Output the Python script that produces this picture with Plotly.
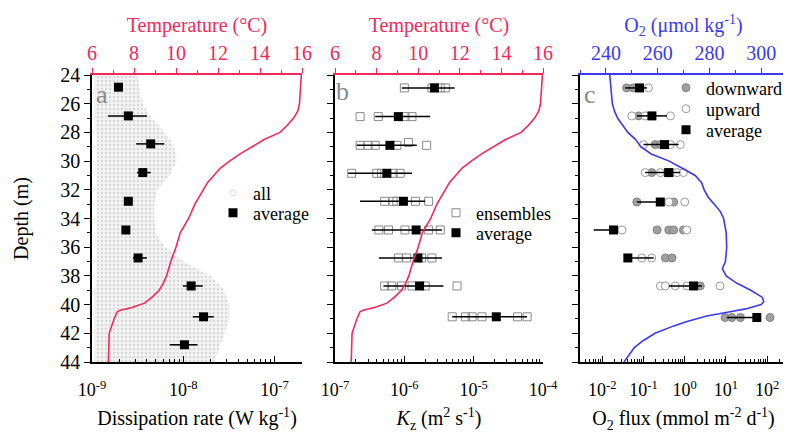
import plotly.graph_objects as go

# ---------------- data ----------------
# temperature profile (shared by panels a and b)
temp_depth = [24, 25, 26, 26.5, 27, 27.5, 28, 28.5, 29, 29.5, 30, 30.5, 31, 31.5, 32, 33, 34, 35, 36, 37,
              38, 38.5, 39, 39.5, 39.9, 40.2, 40.4, 40.5, 41, 41.8, 42, 43, 44]
temp_val = [15.97, 15.93, 15.88, 15.8, 15.6, 15.3, 14.95, 14.2, 13.6, 13.05, 12.55, 12.1, 11.8, 11.5, 11.3,
            10.9, 10.6, 10.2, 10.0, 9.75, 9.55, 9.4, 9.2, 8.85, 8.5, 7.9, 7.35, 7.2, 7.05, 6.88, 6.82, 6.8, 6.78]

# O2 profile (panel c)
o2_depth = [24, 25, 26, 26.5, 27, 27.5, 28, 28.5, 29, 29.5, 30, 30.5, 31, 31.5, 32, 32.5, 33, 33.5, 34, 35,
            36, 37, 37.5, 38, 38.5, 39, 39.5, 39.8, 40, 40.3, 40.5, 40.8, 41.2, 41.5, 42, 42.5, 43, 44]
o2_val = [241.5, 241.9, 242.5, 243.3, 244.5, 246.5, 248.5, 251.5, 253.5, 257.5, 264.5, 269.5, 274.5, 277,
          278, 279.5, 282, 284.2, 285.5, 286.5, 286.7, 286.2, 285, 286.5, 290.5, 296, 300.5, 301, 300, 294,
          288, 279, 271, 266, 259, 254.5, 251, 247]

# panel a: envelope of all dissipation measurements
all_depth = [24, 25, 26, 27, 28, 29, 30, 31, 32, 33, 34, 35, 36, 37, 38, 39, 40, 41, 42, 43, 44]
all_low = [1.07e-9, 1.07e-9, 1.07e-9, 1.07e-9, 1.12e-9, 1.12e-9, 1.12e-9, 1.12e-9, 1.12e-9, 1.12e-9, 1.12e-9,
           1.12e-9, 1.12e-9, 1.12e-9, 1.12e-9, 1.07e-9, 1.07e-9, 1.07e-9, 1.07e-9, 1.07e-9, 1.07e-9]
all_high = [3.2e-9, 3.3e-9, 3.6e-9, 4.5e-9, 6.3e-9, 8.0e-9, 8.5e-9, 7.1e-9, 5.2e-9, 4.8e-9, 4.8e-9,
            5.0e-9, 6.3e-9, 1.0e-8, 2.0e-8, 2.8e-8, 3.2e-8, 3.2e-8, 2.8e-8, 2.5e-8, 2.2e-8]

# panel a: averages
eps_depth = [24.85, 26.85, 28.8, 30.8, 32.8, 34.8, 36.75, 38.7, 40.85, 42.8]
eps_avg = [1.95e-9, 2.5e-9, 4.4e-9, 3.6e-9, 2.5e-9, 2.35e-9, 3.2e-9, 1.22e-8, 1.67e-8, 1.03e-8]
eps_lo = [1.9e-9, 1.5e-9, 3.05e-9, 3.1e-9, 2.45e-9, 2.3e-9, 2.8e-9, 9.9e-9, 1.27e-8, 7.1e-9]
eps_hi = [2.0e-9, 4.0e-9, 6.2e-9, 4.4e-9, 2.55e-9, 2.4e-9, 4.0e-9, 1.64e-8, 2.16e-8, 1.43e-8]

# panel b: Kz
kz_depth = [24.9, 26.9, 28.9, 30.85, 32.8, 34.8, 36.75, 38.7, 40.85]
kz_avg = [2.72e-6, 8.2e-7, 6.2e-7, 5.6e-7, 9.7e-7, 1.48e-6, 1.57e-6, 1.66e-6, 2.12e-5]
kz_lo = [9.2e-7, 3.8e-7, 2.06e-7, 1.55e-7, 2.3e-7, 3.4e-7, 4.3e-7, 5.0e-7, 4.9e-6]
kz_hi = [5.3e-6, 2.36e-6, 1.51e-6, 1.29e-6, 2.0e-6, 3.48e-6, 3.48e-6, 3.67e-6, 5.9e-5]
ens_depth = [24.9] * 4 + [26.9] * 4 + [28.9, 28.9, 28.9, 28.9, 28.7, 28.9] + [30.85] * 5 + [32.8] * 5 + \
            [34.8] * 5 + [36.75] * 4 + [38.7] * 6 + [40.85] * 6
ens_kz = [1.0e-6, 2.5e-6, 3.3e-6, 3.9e-6,
          2.3e-7, 4.2e-7, 1.02e-6, 1.29e-6,
          2.3e-7, 3.0e-7, 3.8e-7, 7.8e-7, 1.15e-6, 2.1e-6,
          1.74e-7, 4.0e-7, 4.7e-7, 6.9e-7, 8.7e-7,
          5.2e-7, 6.9e-7, 7.8e-7, 1.45e-6, 2.24e-6,
          4.3e-7, 5.9e-7, 1.02e-6, 2.24e-6, 3.3e-6,
          8.2e-7, 1.08e-6, 1.78e-6, 2.5e-6,
          5.2e-7, 6.6e-7, 9.1e-7, 1.29e-6, 2.0e-6, 5.75e-6,
          4.9e-6, 7.6e-6, 9.5e-6, 1.32e-5, 4.3e-5, 5.9e-5]

# panel c: O2 flux
flux_depth = [24.9, 26.85, 28.85, 30.8, 32.85, 34.8, 36.75, 38.7, 40.9]
flux_avg = [0.080, 0.160, 0.324, 0.407, 0.255, 0.0188, 0.0417, 1.64, 56]
flux_lo = [0.036, 0.069, 0.10, 0.11, 0.069, 0.0062, 0.0417, 0.41, 10.5]
flux_hi = [0.121, 0.37, 0.71, 0.78, 0.255, 0.0188, 0.176, 2.63, 56]
down_depth = [24.9, 24.9, 26.85, 28.85, 28.85, 30.8, 30.8, 32.85, 32.85, 34.8, 34.8, 34.8, 34.8,
              36.75, 36.75, 38.7, 40.9, 40.9, 40.9, 40.9]
down_flux = [0.039, 0.056, 0.076, 0.193, 0.257, 0.158, 0.49, 0.069, 0.54, 0.214, 0.41, 0.54, 0.93,
             0.34, 0.49, 2.38, 9.5, 13.8, 22.4, 117]
up_depth = [24.9, 26.85, 26.85, 26.85, 28.85, 28.85, 28.85, 30.8, 30.8, 30.8, 30.8, 32.85, 32.85,
            34.8, 34.8, 36.75, 36.75, 38.7, 38.7, 38.7, 38.7, 38.7]
up_flux = [0.132, 0.052, 0.110, 0.45, 0.10, 0.45, 0.78, 0.11, 0.257, 0.65, 0.93, 0.41, 1.0,
           0.030, 1.12, 0.091, 0.158, 0.257, 0.34, 0.59, 1.13, 7.2]

depth_ticks = list(range(24, 45, 2))
eps_decades = [-9, -8, -7]
kz_decades = [-7, -6, -5, -4]
flux_decades = [-2, -1, 0, 1, 2]

# ---------------- style ----------------
FONT = "Liberation Serif"
RED = "#f5285a"
BLUE = "#3a3af0"
W, H = 791, 436
OFF = 8  # page body margin of the browser


def px(x):
    return (x - OFF) / W


def py(y):
    return 1 - (y - OFF) / H


Y0, Y1 = py(362), py(75)
dom_a = [px(92), px(302)]
dom_b = [px(335), px(543)]
dom_c = [px(580), px(787)]


def err(avg, lo, hi):
    return dict(type="data", symmetric=False,
                array=[h - a for a, h in zip(avg, hi)],
                arrayminus=[a - l for a, l in zip(avg, lo)],
                color="black", thickness=1.5, width=0)


AVG_MARK = dict(symbol="square", size=9, color="black")

fig = go.Figure()

# panel a
fig.add_trace(go.Scatter(x=all_low + all_high[::-1], y=all_depth + all_depth[::-1], mode="lines",
                         fill="toself", fillcolor="rgba(222,222,222,0.55)",
                         fillpattern=dict(shape=".", fgcolor="#bdbdbd", bgcolor="rgba(232,232,232,0.55)",
                                          size=4, solidity=0.3),
                         line=dict(width=0, color="rgba(0,0,0,0)"), showlegend=False,
                         xaxis="x", yaxis="y", hoverinfo="skip"))
fig.add_trace(go.Scatter(x=[None], y=[None], mode="markers", name="all",
                         marker=dict(symbol="circle-open", size=6, color="#dcdcdc"),
                         xaxis="x", yaxis="y", legend="legend"))
fig.add_trace(go.Scatter(x=eps_avg, y=eps_depth, mode="markers", name="average", marker=AVG_MARK,
                         error_x=err(eps_avg, eps_lo, eps_hi), xaxis="x", yaxis="y", legend="legend2"))
fig.add_trace(go.Scatter(x=temp_val, y=temp_depth, mode="lines", line=dict(color=RED, width=1.6),
                         showlegend=False, xaxis="x2", yaxis="y"))

# panel b
fig.add_trace(go.Scatter(x=ens_kz, y=ens_depth, mode="markers", name="ensembles",
                         marker=dict(symbol="square-open", size=8, color="#8a8a8a", line=dict(width=1)),
                         xaxis="x3", yaxis="y2", legend="legend3"))
fig.add_trace(go.Scatter(x=kz_avg, y=kz_depth, mode="markers", name="average", marker=AVG_MARK,
                         error_x=err(kz_avg, kz_lo, kz_hi), xaxis="x3", yaxis="y2", legend="legend4"))
fig.add_trace(go.Scatter(x=temp_val, y=temp_depth, mode="lines", line=dict(color=RED, width=1.6),
                         showlegend=False, xaxis="x4", yaxis="y2"))

# panel c
fig.add_trace(go.Scatter(x=down_flux, y=down_depth, mode="markers", name="downward",
                         marker=dict(symbol="circle", size=8, color="#a0a0a0", line=dict(width=1, color="#808080")),
                         xaxis="x5", yaxis="y3", legend="legend5"))
fig.add_trace(go.Scatter(x=up_flux, y=up_depth, mode="markers", name="upward",
                         marker=dict(symbol="circle", size=8, color="white", line=dict(width=1, color="#9a9a9a")),
                         xaxis="x5", yaxis="y3", legend="legend6"))
fig.add_trace(go.Scatter(x=flux_avg, y=flux_depth, mode="markers", name="average", marker=AVG_MARK,
                         error_x=err(flux_avg, flux_lo, flux_hi), xaxis="x5", yaxis="y3", legend="legend7"))
fig.add_trace(go.Scatter(x=o2_val, y=o2_depth, mode="lines", line=dict(color=BLUE, width=1.6),
                         showlegend=False, xaxis="x6", yaxis="y3"))

tickfont = dict(family=FONT, size=20, color="black")
logtickfont = dict(family=FONT, size=18, color="black")
titlefont = dict(family=FONT, size=20, color="black")


def logx(dom, rng, decades, title, anchor):
    major = [10.0 ** d for d in decades]
    labels = ["10<sup>%d</sup>" % d for d in decades]
    minor_vals = [m * 10.0 ** d for d in range(decades[0] - 1, decades[-1] + 1) for m in range(2, 10)]
    return dict(type="log", domain=dom, range=rng, anchor=anchor, tickmode="array", tickvals=major,
                ticktext=labels, ticks="inside", ticklen=6, tickwidth=1.3, tickcolor="black",
                minor=dict(tickmode="array", tickvals=minor_vals, ticks="inside", ticklen=3, tickwidth=1,
                           tickcolor="black", showgrid=False),
                showline=True, linecolor="black", linewidth=1.5, showgrid=False, zeroline=False,
                tickfont=logtickfont, ticklabelstandoff=11, automargin=False,
                title=dict(text=title, font=titlefont, standoff=12))


def topx(over, anchor, rng, dt, mdt, color, title):
    return dict(overlaying=over, side="top", anchor=anchor, range=rng, dtick=dt, ticks="outside",
                ticklen=5, tickwidth=1.3, tickcolor=color, automargin=False,
                minor=dict(ticks="outside", ticklen=3, tickwidth=1, tickcolor=color, dtick=mdt, showgrid=False),
                showline=True, linecolor=color, linewidth=1.5, showgrid=False, zeroline=False,
                tickfont=dict(family=FONT, size=20, color=color),
                title=dict(text=title, font=dict(family=FONT, size=20, color=color), standoff=4))


def yax(anchor, labels, title=None):
    d = dict(domain=[Y0, Y1], range=[44, 24], anchor=anchor, tickvals=depth_ticks, ticks="outside",
             ticklen=6, tickwidth=1.3, tickcolor="black", automargin=False,
             minor=dict(ticks="outside", ticklen=3, tickwidth=1, tickcolor="black", dtick=1, showgrid=False),
             showline=True, linecolor="black", linewidth=1.5, showgrid=False, zeroline=False,
             showticklabels=labels, tickfont=tickfont)
    if title:
        d["title"] = dict(text=title, font=titlefont, standoff=26)
    return d


def leg(x_marker, y_item):
    return dict(x=px(x_marker - 20), y=py(y_item), xanchor="left", yanchor="middle",
                font=dict(family=FONT, size=18, color="black"), bgcolor="rgba(0,0,0,0)",
                borderwidth=0, itemsizing="trace")


def label(text, x, y):
    return dict(text=text, x=px(x), y=py(y), xref="paper", yref="paper", showarrow=False,
                xanchor="center", yanchor="middle", font=dict(family=FONT, size=26, color="#8a8a8a"))


fig.update_layout(
    width=W, height=H, margin=dict(l=0, r=0, t=0, b=0, autoexpand=False),
    paper_bgcolor="white", plot_bgcolor="white",
    font=dict(family=FONT, size=18, color="black"),
    xaxis=logx(dom_a, [-9, -6.699], eps_decades, "Dissipation rate (W kg<sup>-1</sup>)", "y"),
    xaxis2=topx("x", "y", [6, 16], 2, 1, RED, "Temperature (°C)"),
    xaxis3=logx(dom_b, [-7, -4], kz_decades, "<i>K</i><sub>z</sub> (m<sup>2</sup> s<sup>-1</sup>)", "y2"),
    xaxis4=topx("x3", "y2", [6, 16], 2, 1, RED, "Temperature (°C)"),
    xaxis5=logx(dom_c, [-2.54, 2.48], flux_decades,
                "O<sub>2</sub> flux (mmol m<sup>-2</sup> d<sup>-1</sup>)", "y3"),
    xaxis6=topx("x5", "y3", [230, 310], 20, 10, BLUE, "O<sub>2</sub> (μmol kg<sup>-1</sup>)"),
    yaxis=yax("x", True, "Depth (m)"),
    yaxis2=yax("x3", False),
    yaxis3=yax("x5", False),
    legend=leg(233, 193),
    legend2=leg(233, 213),
    legend3=leg(456, 213),
    legend4=leg(456, 233),
    legend5=leg(686, 88),
    legend6=leg(686, 109),
    legend7=leg(686, 130),
    annotations=[label("a", 102, 94), label("b", 342, 92), label("c", 590, 94)],
)

fig.write_html("out.html")
